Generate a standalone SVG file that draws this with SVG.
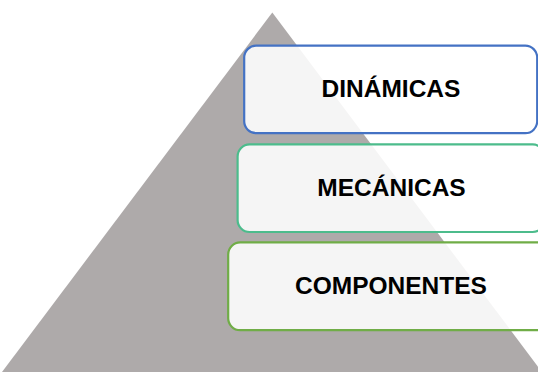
<svg xmlns="http://www.w3.org/2000/svg" width="538" height="372" viewBox="0 0 538 372">
<style>
.box{fill:#ffffff;fill-opacity:0.88;stroke-width:2.2}
.lbl{font-family:"Liberation Sans",Arial,sans-serif;font-weight:bold;font-size:24.5px;fill:#000;text-anchor:middle}
</style>
<rect width="538" height="372" fill="#ffffff"/>
<g id="pyramid">
<polygon points="272.3,12.5 2,372 542,372" fill="#AEAAAA"/>
</g>
<g id="connectors"></g>
<g id="dinamicas">
<rect class="box" x="244.2" y="45.6" width="293" height="87.6" rx="12" stroke="#4472C4"/>
<text class="lbl" x="391" y="97">DINÁMICAS</text>
</g>
<g id="mecanicas">
<rect class="box" x="237.6" y="144.4" width="307" height="87.6" rx="12" stroke="#4CBC8C"/>
<text class="lbl" x="391.5" y="195.5">MECÁNICAS</text>
</g>
<g id="componentes">
<rect class="box" x="228.2" y="242.4" width="326" height="87.8" rx="12" stroke="#70AD47"/>
<text class="lbl" x="391" y="294">COMPONENTES</text>
</g>
</svg>
